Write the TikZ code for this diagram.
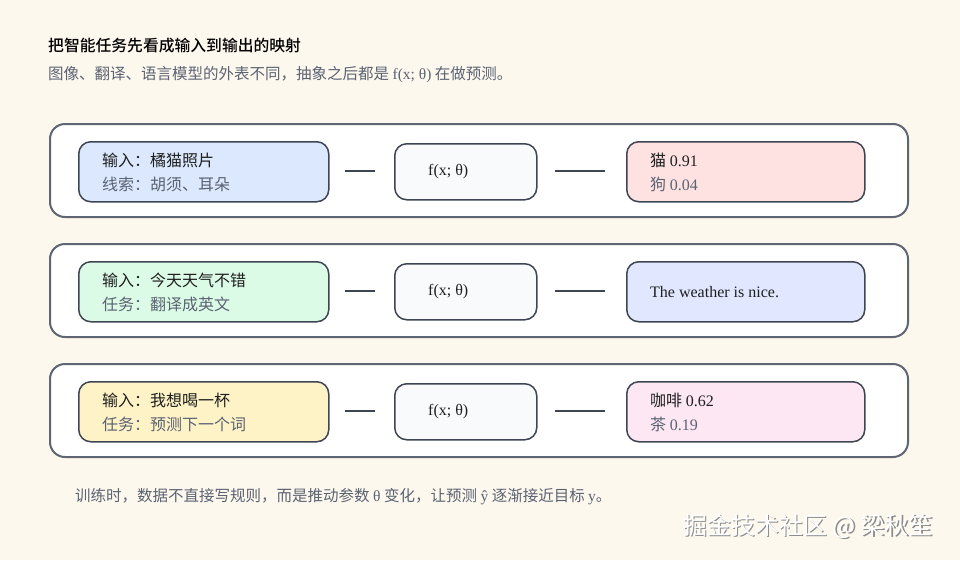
\documentclass[tikz,border=0pt]{standalone}
\usepackage{fontspec}
\setmainfont{Liberation Serif}
\newfontfamily\cjk{Noto Sans CJK SC}
\newfontfamily\cjkm{Noto Sans CJK SC Medium}
\begin{document}
\begin{tikzpicture}[x=1pt,y=-1pt,
 outer/.style={draw=edge,line width=2pt,rounded corners=15pt,fill=white},
 box/.style={draw=edge2,line width=1.5pt,rounded corners=12pt},
 mid/.style={box,fill=mid},
 lbl/.style={anchor=west,font=\fontsize{16}{18}\selectfont,text=black!88},
 sub/.style={anchor=west,font=\fontsize{16}{18}\selectfont,text=subc},
 conn/.style={draw=edge2,line width=2pt}]
\definecolor{bg}{HTML}{FDF8EE}
\definecolor{edge}{HTML}{5E6573}
\definecolor{edge2}{HTML}{3F4653}
\definecolor{subc}{HTML}{5B6272}
\definecolor{mid}{HTML}{F8FAFC}
\definecolor{la}{HTML}{DBE8FD}\definecolor{lb}{HTML}{DCFBE6}\definecolor{lc}{HTML}{FEF3C7}
\definecolor{ra}{HTML}{FEE2E2}\definecolor{rb}{HTML}{E0E7FF}\definecolor{rc}{HTML}{FCE7F3}
\fill[bg] (0,0) rectangle (960,560);
\node[anchor=west,inner sep=0pt,font=\cjkm\fontsize{15.8}{18}\selectfont] (t) at (48,46) {把智能任务先看成输入到输出的映射};
\node[anchor=west,inner sep=0pt,font=\cjk\fontsize{15.5}{18}\selectfont,text=subc] (s) at (48,75) {图像、翻译、语言模型的外表不同，抽象之后都是 {\rmfamily f(x; θ)} 在做预测。};
\foreach \i/\y/\lc/\rc/\la/\lb/\ra/\rb in {1/124/la/ra/橘猫照片/{线索：胡须、耳朵}/{猫 {\rmfamily 0.91}}/{狗 {\rmfamily 0.04}},
 2/244/lb/rb/今天天气不错/{任务：翻译成英文}/{}/{},
 3/364/lc/rc/我想喝一杯/{任务：预测下一个词}/{咖啡 {\rmfamily 0.62}}/{茶 {\rmfamily 0.19}}}{
 \draw[outer] (50,\y) rectangle (908,\y+93);
 \node[box,fill=\lc,minimum width=250pt,minimum height=60pt,anchor=north west] (l\i) at (78,\y+17) {};
 \node[mid,minimum width=142pt,minimum height=56pt,anchor=north west] (m\i) at (394,\y+19) {};
 \node[box,fill=\rc,minimum width=238pt,minimum height=60pt,anchor=north west] (r\i) at (626,\y+17) {};
 \node[lbl,inner sep=0pt,font=\cjk\fontsize{16}{18}\selectfont] (la\i) at (102,\y+36) {输入：\la};
 \node[sub,inner sep=0pt,font=\cjk\fontsize{16}{18}\selectfont] (lb\i) at (102,\y+60) {\lb};
 \node[lbl,inner sep=0pt] (f\i) at (428,\y+48) {f(x; θ)};
 \node[lbl,inner sep=0pt,font=\cjk\fontsize{16}{18}\selectfont] (ra\i) at (650,\y+36) {\ra};
 \node[sub,inner sep=0pt,font=\cjk\fontsize{16}{18}\selectfont] (rb\i) at (650,\y+60) {\rb};
 \coordinate (a\i) at (345,\y+47); \coordinate (b\i) at (375,\y+47);
 \coordinate (c\i) at (555,\y+47); \coordinate (d\i) at (605,\y+47);
 \draw[conn] (a\i) -- (b\i); \draw[conn] (c\i) -- (d\i);
}
\node[lbl,inner sep=0pt] (w) at (650,292) {The weather is nice.};
\node[anchor=west,inner sep=0pt,font=\cjk\fontsize{15.5}{18}\selectfont,text=subc] (ft) at (75,497) {训练时，数据不直接写规则，而是推动参数 {\rmfamily θ} 变化，让预测 {\rmfamily ŷ} 逐渐接近目标 {\rmfamily y}。};
\node[anchor=west,inner sep=0pt,font=\cjk\fontsize{24}{26}\selectfont,text=black!45] at (684.7,527.7) {掘金技术社区 @ 梁秋笙};
\node[anchor=west,inner sep=0pt,font=\cjk\fontsize{24}{26}\selectfont,text=white] (wm) at (683,526) {掘金技术社区 @ 梁秋笙};
\end{tikzpicture}
\end{document}
